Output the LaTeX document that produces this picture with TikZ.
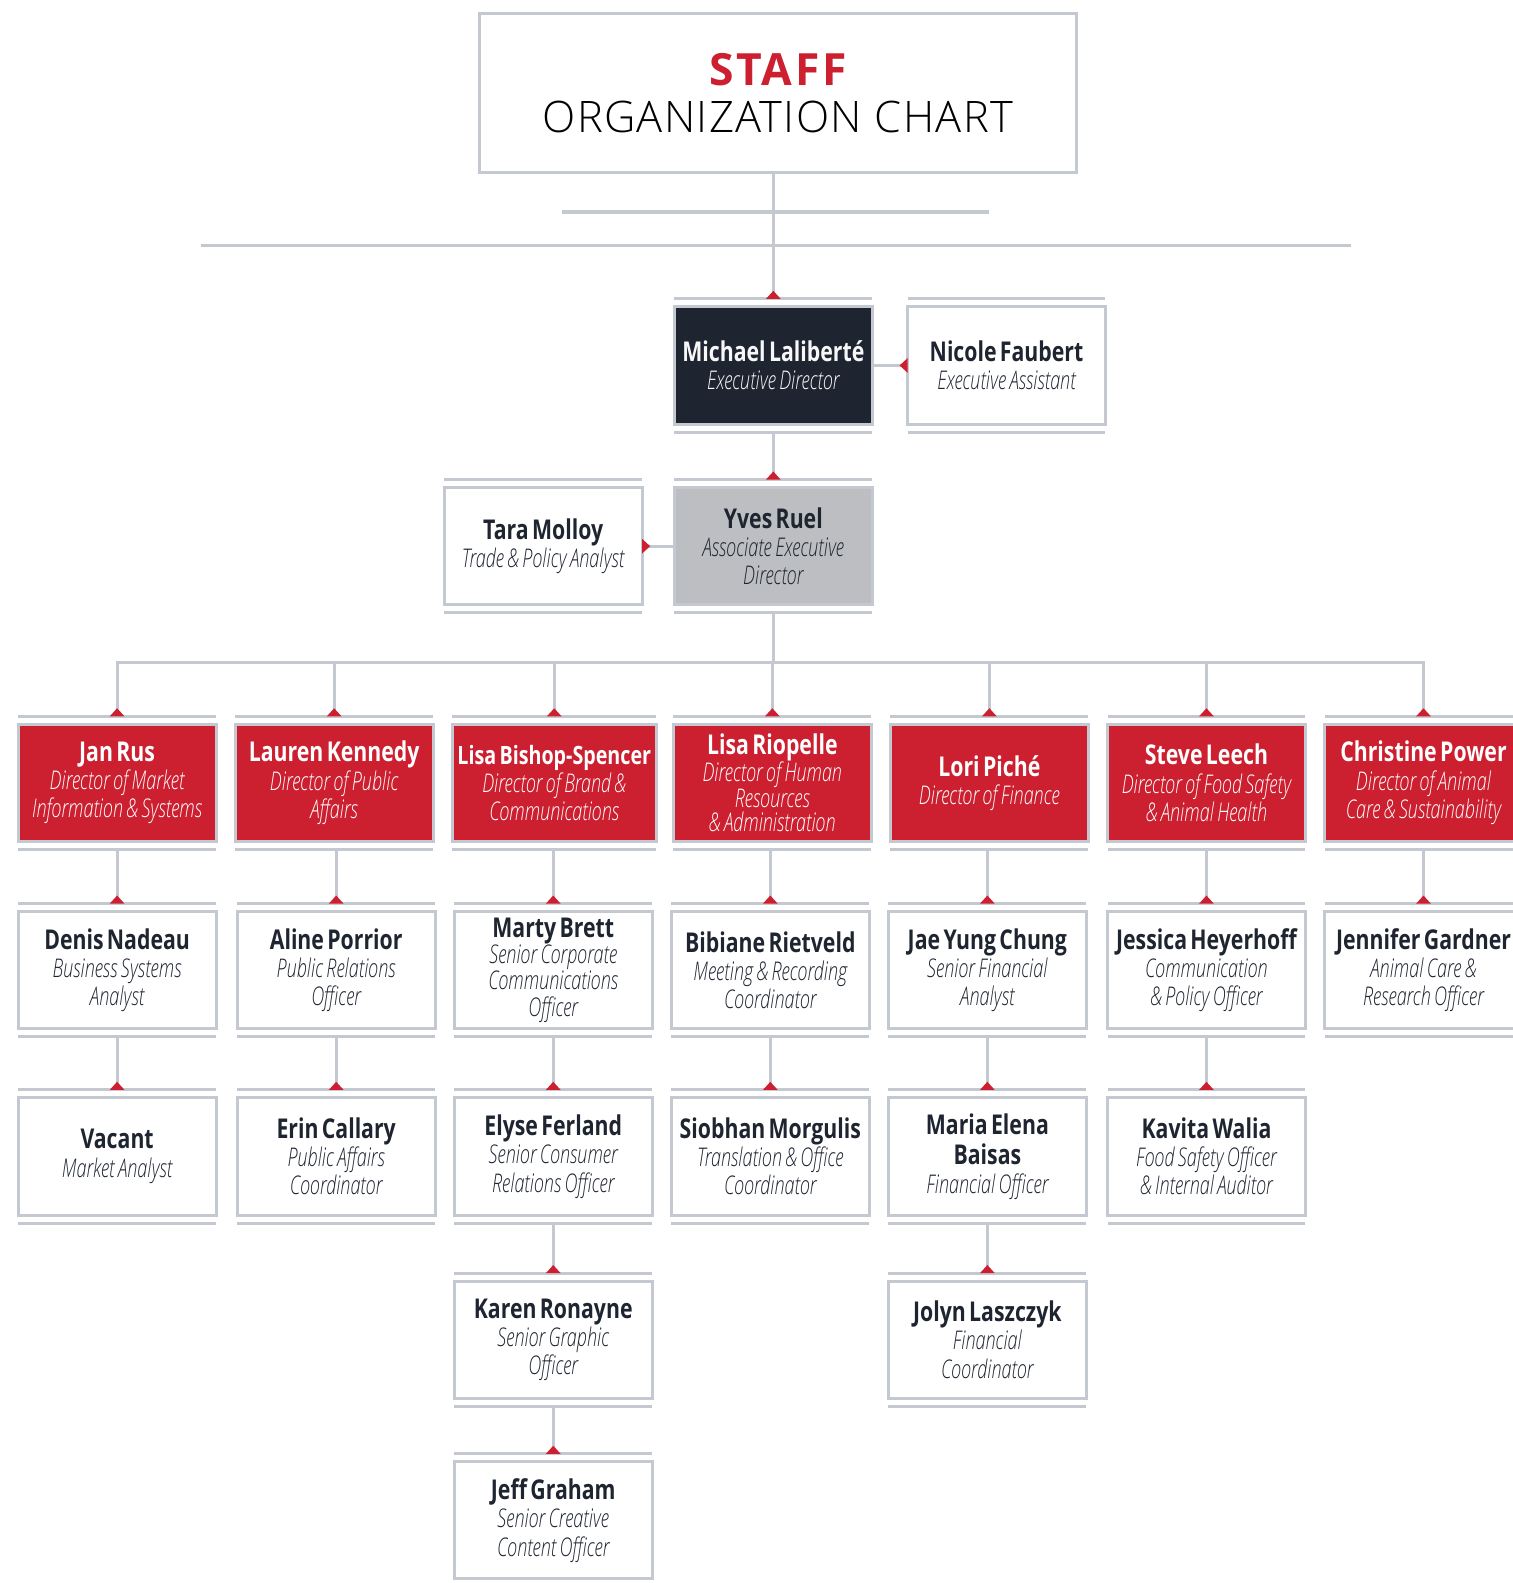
\documentclass[tikz,border=0pt]{standalone}
\usepackage{fontspec}
\usetikzlibrary{arrows.meta}

\setmainfont{Open Sans}
\newfontfamily\namefont[FakeStretch=0.78]{Open Sans}
\IfFontExistsTF{Open Sans Light Italic}
  {\newfontfamily\rolefont[FakeStretch=0.70]{Open Sans Light Italic}}
  {\newfontfamily\rolefont[FakeStretch=0.70]{Open Sans Italic}}
\IfFontExistsTF{Open Sans Light}
  {\newfontfamily\titlefont[LetterSpace=3]{Open Sans Light}}
  {\newfontfamily\titlefont[LetterSpace=3]{Open Sans}}
\newfontfamily\staffword[LetterSpace=6]{Open Sans}

\definecolor{staffred}{HTML}{CC1F30}
\definecolor{staffnavy}{HTML}{1E2530}
\definecolor{staffgrey}{HTML}{BDBEC1}
\definecolor{rulegrey}{HTML}{C4C8D1}
\definecolor{inkdark}{HTML}{1E2530}

% name on top, role(s) below
\newcommand\who[3][28]{{\namefont\bfseries\fontsize{27}{30}\selectfont #2\par}%
  {\rolefont\fontsize{25.5}{#1}\selectfont #3\par}}

\begin{document}
\begin{tikzpicture}[x=1pt,y=-1pt,
  person/.style={draw=rulegrey, line width=3pt, minimum width=196pt, minimum height=116pt,
    inner sep=0pt, outer xsep=0pt, outer ysep=8pt, text width=194pt, align=center, text=inkdark},
  redbox/.style={person, fill=staffred, text=white},
  navybox/.style={person, fill=staffnavy, text=white!88!staffgrey},
  greybox/.style={person, fill=staffgrey},
  rule/.style={draw=rulegrey, line width=3pt},
  link/.style={draw=rulegrey, line width=3pt,
    -{Triangle[reversed, width=14pt, length=8pt, color=staffred, fill=staffred]}}]
\useasboundingbox (0,0) rectangle (1498,1568);

% title
\node[draw=rulegrey, line width=3pt, minimum width=591pt, minimum height=158pt,
  text width=580pt, align=center] (title) at (770.5,92)
  {{\staffword\bfseries\color{staffred}\fontsize{44}{47}\selectfont STAFF\par}
   {\titlefont\fontsize{43}{47}\selectfont ORGANIZATION\hspace{13pt}CHART\par}};
\draw[rule] (557,210) -- (980,210);
\draw[rule] (199,243) -- (1338,243);

% executive
\node[navybox] (mich) at (766,362) {\who{Michael Laliberté}{Executive Director}};
\node[person] (nicole) at (997,362) {\who{Nicole Faubert}{Executive Assistant}};
\node[greybox] (yves) at (766,541) {\who{Yves Ruel}{Associate Executive\\Director}};
\node[person] (tara) at (538,541) {\who{Tara Molloy}{Trade \& Policy Analyst}};

% directors
\node[redbox] (jan) at (116,775.5) {\who{Jan Rus}{Director of Market\\Information \& Systems}};
\node[redbox] (lauren) at (331,775.5) {\who{Lauren Kennedy}{Director of Public\\Affairs}};
\node[redbox, minimum width=202pt, text width=200pt] (lisab) at (549,775.5)
  {\who{\fontsize{25}{30}\selectfont\mbox{Lisa Bishop-Spencer}}{Director of Brand \&\\Communications}};
\node[redbox] (lisar) at (765,775.5) {\who[24]{Lisa Riopelle}{Director of Human\\Resources\\\& Administration}};
\node[redbox] (lori) at (980,775.5) {\who{Lori Piché}{Director of Finance}};
\node[redbox] (steve) at (1195,775.5) {\who{Steve Leech}{Director of Food Safety\\\& Animal Health}};
\node[redbox] (christine) at (1410,775.5) {\who{Christine Power}{Director of Animal\\Care \& Sustainability}};

% staff
\node[person] (denis) at (116,961) {\who{Denis Nadeau}{Business Systems\\Analyst}};
\node[person] (vacant) at (116,1145.5) {\who{Vacant}{Market Analyst}};
\node[person] (aline) at (333,961) {\who{Aline Porrior}{Public Relations\\Officer}};
\node[person] (erin) at (333,1145.5) {\who{Erin Callary}{Public Affairs\\Coordinator}};
\node[person] (marty) at (548,961) {\who[26]{Marty Brett}{Senior Corporate\\Communications\\Officer}};
\node[person] (elyse) at (548,1145.5) {\who{Elyse Ferland}{Senior Consumer\\Relations Officer}};
\node[person] (karen) at (548,1327) {\who{Karen Ronayne}{Senior Graphic\\Officer}};
\node[person] (jeff) at (548,1506) {\who{Jeff Graham}{Senior Creative\\Content Officer}};
\node[person] (bibiane) at (763,961) {\who{Bibiane Rietveld}{Meeting \& Recording\\Coordinator}};
\node[person] (siobhan) at (763,1145.5) {\who{Siobhan Morgulis}{Translation \& Office\\Coordinator}};
\node[person] (jae) at (978,961) {\who{Jae Yung Chung}{Senior Financial\\Analyst}};
\node[person] (maria) at (978,1145.5) {\who{Maria Elena\\Baisas}{Financial Officer}};
\node[person] (jolyn) at (978,1327) {\who{Jolyn Laszczyk}{Financial\\Coordinator}};
\node[person] (jessica) at (1195,961) {\who{Jessica Heyerhoff}{Communication\\\& Policy Officer}};
\node[person] (kavita) at (1195,1145.5) {\who{Kavita Walia}{Food Safety Officer\\\& Internal Auditor}};
\node[person] (jennifer) at (1410,961) {\who{Jennifer Gardner}{Animal Care \&\\Research Officer}};

% rules above and below each box
\foreach \p in {mich,nicole,yves,tara,jan,lauren,lisab,lisar,lori,steve,christine,
  denis,vacant,aline,erin,marty,elyse,karen,jeff,bibiane,siobhan,jae,maria,jolyn,
  jessica,kavita,jennifer}
  {\draw[rule] (\p.north west) -- (\p.north east);
   \draw[rule] (\p.south west) -- (\p.south east);}

% connectors
\draw[link] (mich.north |- title.south) -- (mich.north);
\draw[link] (mich.east) -- (nicole.west);
\draw[link] (mich.south) -- (yves.north);
\draw[link] (yves.west) -- (tara.east);
\coordinate (bus) at (766,656);
\foreach \d in {jan,lauren,lisab,lisar,lori,steve,christine}
  \draw[link] (yves.south) -- (bus) -| (\d.north);
\foreach \a/\b in {jan/denis,denis/vacant,lauren/aline,aline/erin,lisab/marty,
  marty/elyse,elyse/karen,karen/jeff,lisar/bibiane,bibiane/siobhan,lori/jae,
  jae/maria,maria/jolyn,steve/jessica,jessica/kavita,christine/jennifer}
  \draw[link] (\a.south) -- (\a.south -| \b.north) -- (\b.north);
\end{tikzpicture}
\end{document}
